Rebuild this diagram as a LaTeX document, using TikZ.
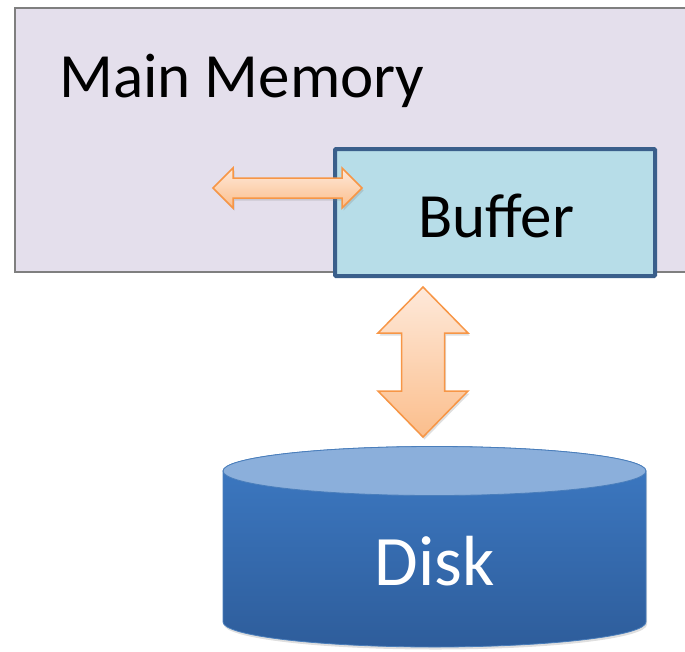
\documentclass[tikz,border=0pt]{standalone}
\usepackage{fontspec}
\setmainfont{Carlito}
\usetikzlibrary{shadows,calc}
\definecolor{memfill}{HTML}{E4DFEC}
\definecolor{memdraw}{HTML}{7F7F7F}
\definecolor{buffill}{HTML}{B7DDE8}
\definecolor{bufdraw}{HTML}{3A5F8B}
\definecolor{arrdraw}{HTML}{F79646}
\definecolor{arrlight}{HTML}{FEE9DA}
\definecolor{arrdark}{HTML}{FBBE8C}
\definecolor{disktop}{HTML}{8BAFDB}
\definecolor{diskbodytop}{HTML}{3D7AC4}
\definecolor{diskbodybot}{HTML}{2E5D9B}
\definecolor{diskdraw}{HTML}{4A7EBB}
\tikzset{
  mmbox/.style={draw=memdraw, line width=1.5pt, fill=memfill, rectangle, inner sep=0pt},
  bufbox/.style={draw=bufdraw, line width=4pt, fill=buffill, rectangle, inner sep=0pt, rounded corners=1pt},
  blockarrow/.style={draw=arrdraw, line width=1.5pt, line join=miter, top color=arrlight, bottom color=arrdark,
     drop shadow={opacity=0.25, shadow xshift=1.5pt, shadow yshift=-2.5pt}},
  bigtext/.style={font=\fontsize{63}{72}\selectfont, inner sep=0pt},
}
\begin{document}
\begin{tikzpicture}[x=1pt, y=1pt]
\useasboundingbox (0,0) rectangle (685,-651);
\clip (0,0) rectangle (685,-651);
% main memory
\node[mmbox, anchor=north west, minimum width=700pt, minimum height=264pt] (mem) at (14,-7) {};
\node[bigtext, anchor=base west] (memlabel) at (59,-97) {Main Memory};
% buffer
\node[bufbox, anchor=north west, minimum width=320pt, minimum height=127pt] (buf) at (333,-147) {};
\node[bigtext, anchor=base] (buflabel) at (496,-237) {Buffer};
% horizontal double arrow
\coordinate (ha) at (287.5,-188);
\begin{scope}[shift={(ha)}]
\path[blockarrow] (-74.5,0) -- (-54.5,20) -- (-54.5,10) -- (54.5,10) -- (54.5,20) -- (74.5,0)
  -- (54.5,-20) -- (54.5,-10) -- (-54.5,-10) -- (-54.5,-20) -- cycle;
\end{scope}
% vertical double arrow
\coordinate (va) at (423,-362);
\begin{scope}[shift={(va)}]
\path[blockarrow] (0,75) -- (45,29) -- (21.5,29) -- (21.5,-29) -- (45,-29) -- (0,-75)
  -- (-45,-29) -- (-21.5,-29) -- (-21.5,29) -- (-45,29) -- cycle;
\end{scope}
% disk
\coordinate (dtop) at (434.5,-471);
\coordinate (dbot) at (434.5,-622);
\path[draw=diskdraw, line width=0.8pt, top color=diskbodytop, bottom color=diskbodybot,
  drop shadow={opacity=0.25, shadow xshift=1pt, shadow yshift=-2.5pt}]
  ($(dtop)+(-211.5,0)$) -- ($(dbot)+(-211.5,0)$)
  arc[start angle=180, end angle=360, x radius=211.5, y radius=25]
  -- ($(dtop)+(211.5,0)$)
  arc[start angle=0, end angle=180, x radius=211.5, y radius=24.5] -- cycle;
\path[draw=diskdraw, line width=0.8pt, fill=disktop] (dtop) ellipse[x radius=211.5, y radius=24.5];
\node[font=\fontsize{71}{80}\selectfont, inner sep=0pt, text=white, anchor=base] (disk) at (435,-585) {Disk};
\end{tikzpicture}
\end{document}
